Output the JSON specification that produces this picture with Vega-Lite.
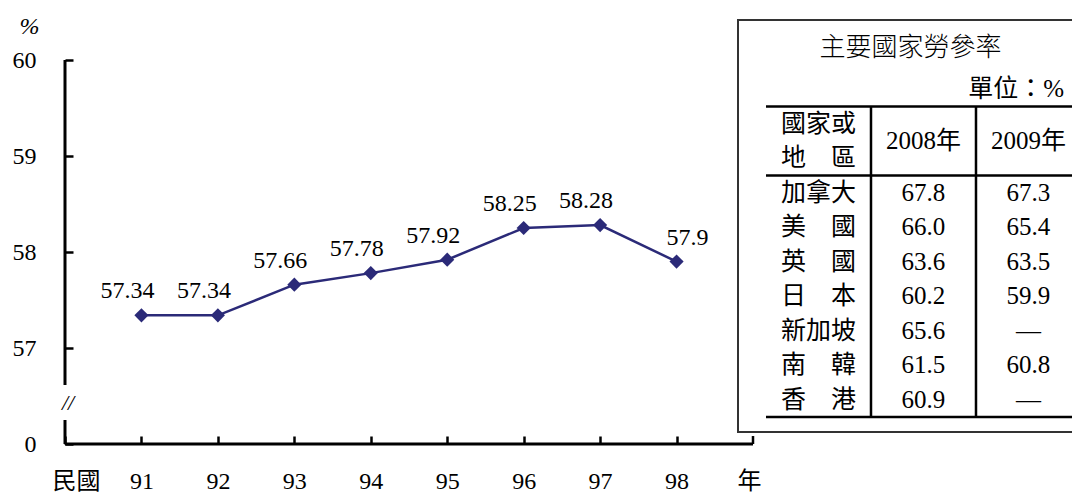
{
  "$schema": "https://vega.github.io/schema/vega-lite/v6.json",
  "background": "white",
  "padding": {"left": 12, "top": 14, "right": 0, "bottom": 0},
  "config": {
    "font": "Times New Roman, Liberation Serif, serif",
    "view": {"stroke": null}
  },
  "spacing": 0,
  "bounds": "flush",
  "hconcat": [
    {
      "width": 673,
      "height": 424,
      "layer": [
        {
          "data": {"values": [{"y1": 56, "y2": 56.25}, {"y1": 56.615, "y2": 60}]},
          "mark": {"type": "rule", "color": "black", "strokeWidth": 3},
          "encoding": {
            "x": {"datum": 90, "type": "quantitative", "scale": {"domain": [90, 98.8038], "nice": false, "zero": false},
              "axis": {"values": [90, 91, 92, 93, 94, 95, 96, 97, 98], "format": "d",
                "labelExpr": "datum.value == 90 ? '民國' : datum.label",
                "labelOffset": {"condition": {"test": "datum.value == 90", "value": 11}, "value": 0},
                "domain": false, "tickColor": "black", "tickWidth": 2.5, "tickSize": -8,
                "labelPadding": 33, "labelFontSize": 24, "labelColor": "black", "labelFont": "Times New Roman, Liberation Serif, Noto Sans CJK TC, serif",
                "grid": false, "labelFlush": false, "labelOverlap": false,
                "title": "年", "titleX": 684, "titleY": 37, "titleAlign": "center", "titleBaseline": "middle",
                "titleFontSize": 24, "titleFontWeight": "normal", "titleColor": "black", "titleFont": "Noto Sans CJK TC"}},
            "y": {"field": "y1", "type": "quantitative", "scale": {"domain": [56, 60.4167], "nice": false, "zero": false},
              "axis": {"values": [56, 57, 58, 59, 60], "format": "d",
                "labelExpr": "datum.value == 56 ? '0' : datum.label",
                "domain": false, "tickColor": "black", "tickWidth": 2.5, "tickSize": -8,
                "labelPadding": 37, "labelFontSize": 24, "labelColor": "black", "labelFont": "Times New Roman, Liberation Serif, serif",
                "grid": false, "labelFlush": false, "labelOverlap": false,
                "title": "%", "titleAngle": 0, "titleX": -36, "titleY": 6, "titleAlign": "center", "titleBaseline": "middle",
                "titleFontSize": 24, "titleFontWeight": "normal", "titleColor": "black", "titleFont": "Times New Roman, Liberation Serif, serif", "titleFontStyle": "italic"}},
            "y2": {"field": "y2"}
          }
        },
        {
          "data": {"values": [{"x1": 90, "x2": 99, "y": 56}]},
          "mark": {"type": "rule", "color": "black", "strokeWidth": 3},
          "encoding": {
            "x": {"field": "x1", "type": "quantitative", "scale": {"domain": [90, 98.8038], "nice": false, "zero": false}},
            "x2": {"field": "x2"},
            "y": {"field": "y", "type": "quantitative", "scale": {"domain": [56, 60.4167], "nice": false, "zero": false}}
          }
        },
        {
          "data": {"values": [{"x": 99, "y1": 56, "y2": 56.083}]},
          "mark": {"type": "rule", "color": "black", "strokeWidth": 2.5},
          "encoding": {
            "x": {"field": "x", "type": "quantitative", "scale": {"domain": [90, 98.8038], "nice": false, "zero": false}},
            "y": {"field": "y1", "type": "quantitative", "scale": {"domain": [56, 60.4167], "nice": false, "zero": false}},
            "y2": {"field": "y2"}
          }
        },
        {
          "data": {"values": [{"t": "//", "x": 90, "y": 56.43}]},
          "mark": {"type": "text", "fontSize": 22, "fontStyle": "italic", "dx": 3, "font": "Times New Roman, Liberation Serif, serif", "color": "black"},
          "encoding": {
            "x": {"field": "x", "type": "quantitative", "scale": {"domain": [90, 98.8038], "nice": false, "zero": false}},
            "y": {"field": "y", "type": "quantitative", "scale": {"domain": [56, 60.4167], "nice": false, "zero": false}},
            "text": {"field": "t"}
          }
        },
        {
          "data": {"name": "main"},
          "mark": {"type": "line", "color": "#2B2A78", "strokeWidth": 2.5},
          "encoding": {
            "x": {"field": "year", "type": "quantitative", "scale": {"domain": [90, 98.8038], "nice": false, "zero": false}},
            "y": {"field": "value", "type": "quantitative", "scale": {"domain": [56, 60.4167], "nice": false, "zero": false}}
          }
        },
        {
          "data": {"name": "main"},
          "mark": {"type": "point", "shape": "diamond", "filled": true, "size": 200, "color": "#2B2A78", "opacity": 1},
          "encoding": {
            "x": {"field": "year", "type": "quantitative", "scale": {"domain": [90, 98.8038], "nice": false, "zero": false}},
            "y": {"field": "value", "type": "quantitative", "scale": {"domain": [56, 60.4167], "nice": false, "zero": false}}
          }
        },
        {
          "data": {"name": "main"},
          "transform": [{"filter": "datum.year < 98"}],
          "mark": {"type": "text", "fontSize": 24, "dy": -17, "dx": -14, "baseline": "alphabetic", "font": "Times New Roman, Liberation Serif, serif", "color": "black"},
          "encoding": {
            "x": {"field": "year", "type": "quantitative", "scale": {"domain": [90, 98.8038], "nice": false, "zero": false}},
            "y": {"field": "value", "type": "quantitative", "scale": {"domain": [56, 60.4167], "nice": false, "zero": false}},
            "text": {"field": "value", "type": "nominal"}
          }
        },
        {
          "data": {"name": "main"},
          "transform": [{"filter": "datum.year == 98"}],
          "mark": {"type": "text", "fontSize": 24, "dy": -17, "dx": 11, "baseline": "alphabetic", "font": "Times New Roman, Liberation Serif, serif", "color": "black"},
          "encoding": {
            "x": {"field": "year", "type": "quantitative", "scale": {"domain": [90, 98.8038], "nice": false, "zero": false}},
            "y": {"field": "value", "type": "quantitative", "scale": {"domain": [56, 60.4167], "nice": false, "zero": false}},
            "text": {"field": "value", "type": "nominal"}
          }
        }
      ]
    },
    {
      "width": 345,
      "height": 412,
      "view": {"stroke": "#333333", "strokeWidth": 2},
      "layer": [
        {
          "data": {"values": [{"row": "h1", "from": "name", "to": "y2009"}, {"row": "加拿大", "from": "name", "to": "y2009"}]},
          "mark": {"type": "rule", "color": "black", "strokeWidth": 2.5},
          "encoding": {
            "x": {"field": "from", "type": "nominal", "bandPosition": 0, "scale": {"type": "band", "domain": ["name", "y2008", "y2009"], "paddingInner": 0, "paddingOuter": 0.1429, "align": 0.933}, "axis": null},
            "x2": {"field": "to", "bandPosition": 1},
            "y": {"field": "row", "type": "nominal", "bandPosition": 0, "scale": {"type": "band", "domain": ["title", "unit", "h1", "h2", "加拿大", "美國", "英國", "日本", "新加坡", "南韓", "香港"], "paddingInner": 0, "paddingOuter": 0.471, "align": 0.538}, "axis": null}
          }
        },
        {
          "data": {"values": [{"row": "香港", "from": "name", "to": "y2009"}]},
          "mark": {"type": "rule", "color": "black", "strokeWidth": 2.5},
          "encoding": {
            "x": {"field": "from", "type": "nominal", "bandPosition": 0},
            "x2": {"field": "to", "bandPosition": 1},
            "y": {"field": "row", "type": "nominal", "bandPosition": 1}
          }
        },
        {
          "data": {"values": [{"col": "y2008", "top": "h1", "bot": "香港"}, {"col": "y2009", "top": "h1", "bot": "香港"}]},
          "mark": {"type": "rule", "color": "black", "strokeWidth": 2.5},
          "encoding": {
            "x": {"field": "col", "type": "nominal", "bandPosition": 0},
            "y": {"field": "top", "type": "nominal", "bandPosition": 0},
            "y2": {"field": "bot", "bandPosition": 1}
          }
        },
        {
          "data": {"values": [
            {"row": "h1", "col": "name", "text": "國家或"},
            {"row": "h2", "col": "name", "text": "地　區"},
            {"row": "加拿大", "col": "name", "text": "加拿大"},
            {"row": "加拿大", "col": "y2008", "text": "67.8"},
            {"row": "加拿大", "col": "y2009", "text": "67.3"},
            {"row": "美國", "col": "name", "text": "美　國"},
            {"row": "美國", "col": "y2008", "text": "66.0"},
            {"row": "美國", "col": "y2009", "text": "65.4"},
            {"row": "英國", "col": "name", "text": "英　國"},
            {"row": "英國", "col": "y2008", "text": "63.6"},
            {"row": "英國", "col": "y2009", "text": "63.5"},
            {"row": "日本", "col": "name", "text": "日　本"},
            {"row": "日本", "col": "y2008", "text": "60.2"},
            {"row": "日本", "col": "y2009", "text": "59.9"},
            {"row": "新加坡", "col": "name", "text": "新加坡"},
            {"row": "新加坡", "col": "y2008", "text": "65.6"},
            {"row": "新加坡", "col": "y2009", "text": "—"},
            {"row": "南韓", "col": "name", "text": "南　韓"},
            {"row": "南韓", "col": "y2008", "text": "61.5"},
            {"row": "南韓", "col": "y2009", "text": "60.8"},
            {"row": "香港", "col": "name", "text": "香　港"},
            {"row": "香港", "col": "y2008", "text": "60.9"},
            {"row": "香港", "col": "y2009", "text": "—"}
          ]},
          "mark": {"type": "text", "fontSize": 25, "font": "Times New Roman, Liberation Serif, Noto Sans CJK TC, serif", "color": "black"},
          "encoding": {
            "x": {"field": "col", "type": "nominal"},
            "y": {"field": "row", "type": "nominal"},
            "text": {"field": "text"}
          }
        },
        {
          "data": {"values": [{"row": "h1", "col": "y2008", "text": "2008年"}, {"row": "h1", "col": "y2009", "text": "2009年"}]},
          "mark": {"type": "text", "fontSize": 25, "font": "Times New Roman, Liberation Serif, Noto Sans CJK TC, serif", "color": "black"},
          "encoding": {
            "x": {"field": "col", "type": "nominal"},
            "y": {"field": "row", "type": "nominal", "bandPosition": 1},
            "text": {"field": "text"}
          }
        },
        {
          "data": {"values": [{"row": "title", "text": "主要國家勞參率"}]},
          "mark": {"type": "text", "fontSize": 26, "dy": -7, "font": "Noto Sans CJK TC", "fontWeight": 300, "color": "black"},
          "encoding": {
            "y": {"field": "row", "type": "nominal"},
            "text": {"field": "text"}
          }
        },
        {
          "data": {"values": [{"row": "unit", "col": "y2009", "text": "單位：%"}]},
          "mark": {"type": "text", "fontSize": 25, "align": "right", "dx": -17, "font": "Times New Roman, Liberation Serif, Noto Sans CJK TC, serif", "color": "black"},
          "encoding": {
            "x": {"field": "col", "type": "nominal", "bandPosition": 1},
            "y": {"field": "row", "type": "nominal"},
            "text": {"field": "text"}
          }
        }
      ]
    }
  ],
  "datasets": {
    "main": [
      {"year": 91, "value": 57.34},
      {"year": 92, "value": 57.34},
      {"year": 93, "value": 57.66},
      {"year": 94, "value": 57.78},
      {"year": 95, "value": 57.92},
      {"year": 96, "value": 58.25},
      {"year": 97, "value": 58.28},
      {"year": 98, "value": 57.9}
    ]
  }
}
